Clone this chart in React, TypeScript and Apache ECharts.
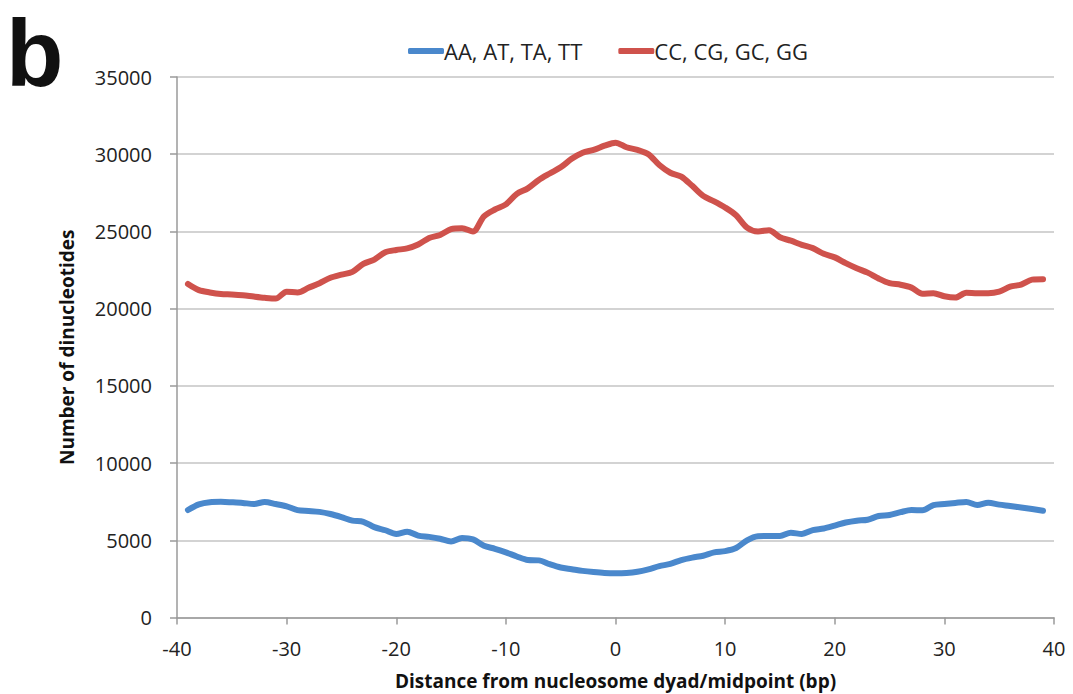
import React, { useEffect, useRef } from "react";
import * as echarts from "echarts";

const positions: number[] = [];
for (let p = -39; p <= 39; p++) positions.push(p);

const atValues = [
  6960, 7330, 7470, 7490, 7460, 7420, 7350, 7480, 7350, 7200,
  6950, 6900, 6840, 6700, 6500, 6270, 6200, 5850, 5650, 5410,
  5560, 5300, 5220, 5100, 4920, 5150, 5060, 4650, 4450, 4220,
  3950, 3720, 3700, 3450, 3240, 3130, 3020, 2940, 2880, 2860,
  2880, 2960, 3120, 3330, 3470, 3720, 3880, 4000, 4220, 4300,
  4500, 5000, 5260, 5280, 5280, 5490, 5410, 5660, 5760, 5950,
  6150, 6270, 6330, 6570, 6640, 6820, 6960, 6940, 7280, 7350,
  7420, 7480, 7290, 7430, 7310, 7220, 7120, 7020, 6910,
];

const gcValues = [
  21600, 21200, 21050, 20950, 20920, 20870, 20780, 20700, 20650, 21100,
  21050, 21350, 21650, 22000, 22200, 22380, 22900, 23180, 23650, 23800,
  23900, 24150, 24580, 24770, 25150, 25210, 25000, 25980, 26420, 26750,
  27430, 27790, 28330, 28750, 29150, 29700, 30100, 30280, 30550, 30750,
  30450, 30280, 30000, 29300, 28800, 28550, 27950, 27300, 26950, 26550,
  26050, 25250, 25000, 25080, 24620, 24400, 24130, 23920, 23550, 23320,
  22950, 22620, 22330, 21950, 21650, 21550, 21360, 20960, 21000, 20800,
  20720, 21030, 21000, 21000, 21100, 21420, 21560, 21880, 21910,
];

const seriesNames = ["AA, AT, TA, TT", "CC, CG, GC, GG"];
const xTitle = "Distance from nucleosome dyad/midpoint (bp)";
const yTitle = "Number of dinucleotides";
const panelLetter = "b";

const FONT = "'Open Sans', sans-serif";

export default function App() {
  const ref = useRef<HTMLDivElement>(null);
  useEffect(() => {
    if (!ref.current) return;
    const chart = echarts.init(ref.current, undefined, { renderer: "svg" });
    const toPairs = (vals: number[]) => positions.map((p, i) => [p, vals[i]]);
    chart.setOption({
      animation: false,
      backgroundColor: "#ffffff",
      textStyle: { fontFamily: FONT },
      graphic: [
        {
          type: "text",
          left: 6,
          top: 6,
          style: {
            text: panelLetter,
            font: "bold 94px 'Liberation Sans', Arial, sans-serif",
            lineHeight: 94,
            fill: "#111",
          },
        },
      ],
      legend: {
        top: 35,
        left: 403,
        itemWidth: 36,
        itemHeight: 6,
        itemGap: 36,
        icon: "roundRect",
        textStyle: { fontFamily: FONT, fontSize: 22, color: "#222", padding: [0, 0, 0, -5] },
        data: seriesNames,
      },
      grid: {
        left: 177,
        right: 19,
        top: 77,
        bottom: 76.5,
        containLabel: false,
        outerBoundsMode: "none",
      },
      xAxis: {
        type: "value",
        min: -40,
        max: 40,
        interval: 10,
        name: xTitle,
        nameLocation: "middle",
        nameGap: 53,
        nameTextStyle: {
          fontFamily: FONT,
          fontSize: 19,
          lineHeight: 20,
          fontWeight: "bold",
          color: "#111",
        },
        axisLine: { show: true, onZero: false, lineStyle: { color: "#9a9a9a", width: 1.5 } },
        axisTick: { show: true, length: 7, lineStyle: { color: "#9a9a9a", width: 1.5 } },
        axisLabel: { fontFamily: FONT, fontSize: 20, color: "#222", margin: 21 },
        splitLine: { show: false },
      },
      yAxis: {
        type: "value",
        min: 0,
        max: 35000,
        interval: 5000,
        name: yTitle,
        nameLocation: "middle",
        nameGap: 101,
        nameTextStyle: { fontFamily: FONT, fontSize: 19, fontWeight: "bold", color: "#111" },
        axisLine: { show: true, onZero: false, lineStyle: { color: "#9a9a9a", width: 1.5 } },
        axisTick: { show: true, length: 7, lineStyle: { color: "#9a9a9a", width: 1.5 } },
        axisLabel: {
          fontFamily: FONT,
          fontSize: 20,
          color: "#222",
          margin: 25,
          formatter: (v: number) => String(v),
        },
        splitLine: { show: true, lineStyle: { color: "#c4c4c4", width: 1.5 } },
      },
      series: [
        {
          name: seriesNames[0],
          type: "line",
          data: toPairs(atValues),
          showSymbol: false,
          smooth: 0.3,
          lineStyle: { color: "#4A88CC", width: 6, cap: "round", join: "round" },
          itemStyle: { color: "#4A88CC" },
        },
        {
          name: seriesNames[1],
          type: "line",
          data: toPairs(gcValues),
          showSymbol: false,
          smooth: 0.3,
          lineStyle: { color: "#CF524C", width: 6, cap: "round", join: "round" },
          itemStyle: { color: "#CF524C" },
        },
      ],
    });
    return () => chart.dispose();
  }, []);
  return <div ref={ref} style={{ width: 1073, height: 694, position: "absolute", left: 0, top: 0 }} />;
}
